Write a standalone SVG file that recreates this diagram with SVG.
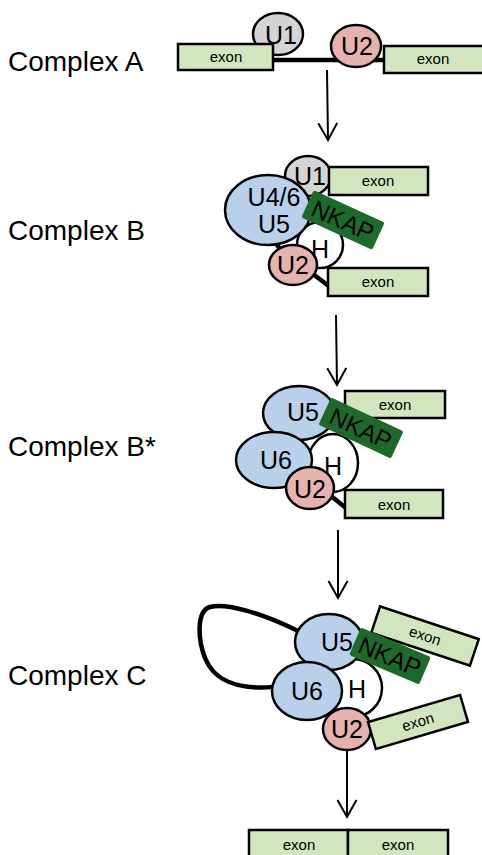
<svg xmlns="http://www.w3.org/2000/svg" width="482" height="855" viewBox="0 0 482 855">
<defs>
<style>
.lbl{font-family:"Liberation Sans",Arial,sans-serif;font-size:28px;fill:#000}
.u{font-family:"Liberation Sans",Arial,sans-serif;font-size:25px;fill:#000;text-anchor:middle}
.ex{font-family:"Liberation Sans",Arial,sans-serif;font-size:15px;fill:#000;text-anchor:middle}
.nk{font-family:"Liberation Sans",Arial,sans-serif;font-size:24px;fill:#000;text-anchor:middle}
.exon{fill:#d3e5bf;stroke:#000;stroke-width:2.5}
.grey{fill:#d4d4d4;stroke:#000;stroke-width:2.5}
.pink{fill:#e6b2b0;stroke:#000;stroke-width:2.5}
.blue{fill:#b9d0ea;stroke:#000;stroke-width:2.5}
.white{fill:#fff;stroke:#000;stroke-width:2.5}
.nkap{fill:#1d6b2a}
.thick{fill:none;stroke:#000;stroke-width:4.5}
.arr{fill:none;stroke:#000;stroke-width:2}
</style>
<marker id="ah" markerWidth="24" markerHeight="24" refX="20" refY="12" orient="auto" markerUnits="userSpaceOnUse">
<path d="M3,2.5 L20,12 L3,21.5" fill="none" stroke="#000" stroke-width="2"/>
</marker>
</defs>

<g id="labels">
<text class="lbl" x="8" y="71">Complex A</text>
<text class="lbl" x="8" y="240">Complex B</text>
<text class="lbl" x="8" y="456">Complex B*</text>
<text class="lbl" x="8" y="685">Complex C</text>
</g>

<g id="connectors">
<line class="arr" x1="327" y1="70" x2="328" y2="140" marker-end="url(#ah)"/>
<line class="arr" x1="336" y1="315" x2="337" y2="385" marker-end="url(#ah)"/>
<line class="arr" x1="338" y1="530" x2="338" y2="598" marker-end="url(#ah)"/>
<line class="arr" x1="347" y1="751" x2="347" y2="817" marker-end="url(#ah)"/>
</g>

<g id="complexA">
<line class="thick" x1="270" y1="60" x2="388" y2="60"/>
<g id="a-u1"><ellipse class="grey" cx="278" cy="34" rx="25" ry="21"/><text class="u" x="281" y="44">U1</text></g>
<g id="a-exon1"><rect class="exon" x="178" y="44" width="95" height="26"/><text class="ex" x="226" y="62">exon</text></g>
<g id="a-u2"><ellipse class="pink" cx="356" cy="46" rx="25" ry="21"/><text class="u" x="357" y="55">U2</text></g>
<g id="a-exon2"><rect class="exon" x="384" y="46" width="110" height="27"/><text class="ex" x="433" y="64">exon</text></g>
</g>

<g id="complexB">
<line class="thick" x1="313" y1="274" x2="330" y2="287"/>
<line class="thick" x1="276" y1="243" x2="281" y2="251"/>
<g id="b-h"><circle class="white" cx="320" cy="245" r="23"/><text class="u" x="320" y="258">H</text></g>
<g id="b-u1"><ellipse class="grey" cx="308" cy="176" rx="23" ry="20"/><text class="u" x="310" y="185">U1</text></g>
<g id="b-exon1"><rect class="exon" x="329" y="167" width="99" height="28"/><text class="ex" x="378" y="186">exon</text></g>
<g id="b-u46"><ellipse class="blue" cx="268" cy="210" rx="43" ry="35"/><text class="u" x="274" y="206">U4/6</text><text class="u" x="274" y="233">U5</text></g>
<g id="b-nkap" transform="translate(343,220) rotate(24.5)"><rect class="nkap" x="-39" y="-15" width="78" height="30" rx="2"/><text class="nk" x="0" y="9">NKAP</text></g>
<g id="b-u2"><ellipse class="pink" cx="293" cy="265" rx="24" ry="20"/><text class="u" x="293" y="274">U2</text></g>
<g id="b-exon2"><rect class="exon" x="328" y="268" width="100" height="28"/><text class="ex" x="378" y="287">exon</text></g>
</g>

<g id="complexBstar">
<line class="thick" x1="331" y1="496" x2="346" y2="508"/>
<g id="bs-h"><ellipse class="white" cx="333" cy="463" rx="25" ry="29"/><text class="u" x="333" y="475">H</text></g>
<g id="bs-exon1"><rect class="exon" x="345" y="391" width="100" height="27"/><text class="ex" x="395" y="410">exon</text></g>
<g id="bs-u5"><ellipse class="blue" cx="299" cy="413" rx="36" ry="27"/><text class="u" x="303" y="421">U5</text></g>
<g id="bs-nkap" transform="translate(361,428) rotate(25)"><rect class="nkap" x="-40" y="-15" width="80" height="30" rx="2"/><text class="nk" x="0" y="9">NKAP</text></g>
<g id="bs-u6"><ellipse class="blue" cx="274" cy="460" rx="38" ry="28"/><text class="u" x="276" y="469">U6</text></g>
<g id="bs-u2"><ellipse class="pink" cx="310" cy="488" rx="24" ry="21"/><text class="u" x="310" y="498">U2</text></g>
<g id="bs-exon2"><rect class="exon" x="345" y="490" width="98" height="28"/><text class="ex" x="394" y="510">exon</text></g>
</g>

<g id="complexC">
<path class="thick" d="M298,631 C260,612 225,603 210,607 C196,611 198,640 205,658 C214,680 235,690 273,687"/>
<g id="c-h"><circle class="white" cx="353" cy="688" r="29"/><text class="u" x="357" y="698">H</text></g>
<g id="c-exon1" transform="translate(425,636) rotate(18.4)"><rect class="exon" x="-52" y="-14" width="104" height="28"/><text class="ex" x="0" y="5">exon</text></g>
<g id="c-u5"><ellipse class="blue" cx="329" cy="642" rx="34" ry="28"/><text class="u" x="337" y="651">U5</text></g>
<g id="c-nkap" transform="translate(390,656) rotate(23)"><rect class="nkap" x="-38" y="-15" width="76" height="30" rx="2"/><text class="nk" x="0" y="9">NKAP</text></g>
<g id="c-u6"><ellipse class="blue" cx="307" cy="691" rx="35" ry="29"/><text class="u" x="307" y="700">U6</text></g>
<g id="c-u2"><ellipse class="pink" cx="347" cy="729" rx="24" ry="21"/><text class="u" x="347" y="738">U2</text></g>
<g id="c-exon2" transform="translate(418,722) rotate(-16.4)"><rect class="exon" x="-48" y="-14" width="96" height="28"/><text class="ex" x="0" y="5">exon</text></g>
</g>

<g id="product">
<g id="p-exon1"><rect class="exon" x="249" y="830" width="99" height="30"/><text class="ex" x="299" y="850">exon</text></g>
<g id="p-exon2"><rect class="exon" x="348" y="830" width="100" height="30"/><text class="ex" x="398" y="850">exon</text></g>
</g>
</svg>
